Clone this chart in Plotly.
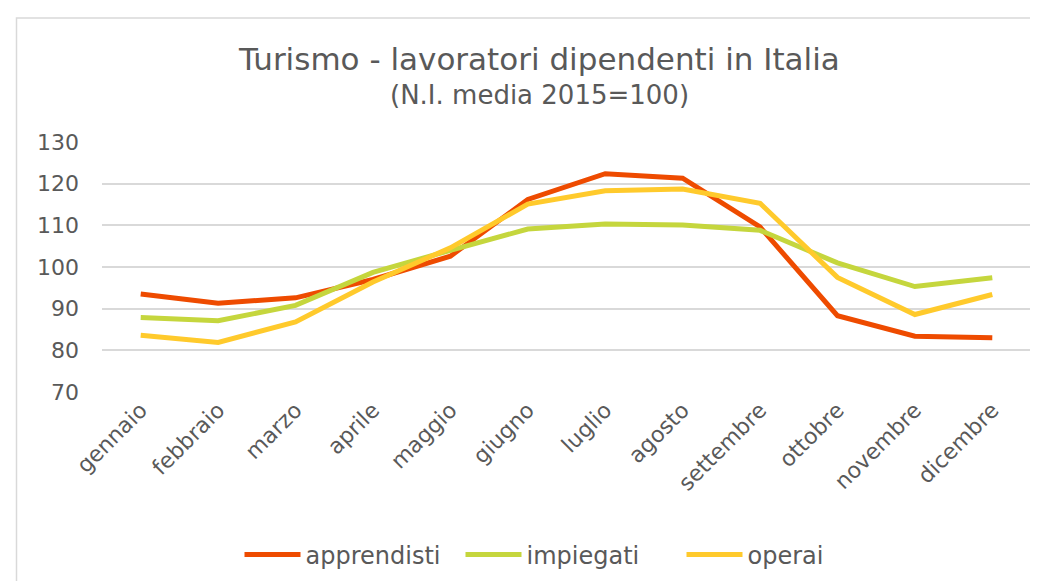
import plotly.graph_objects as go

mesi = ["gennaio", "febbraio", "marzo", "aprile", "maggio", "giugno", "luglio",
        "agosto", "settembre", "ottobre", "novembre", "dicembre"]
apprendisti = [93.5, 91.3, 92.6, 97.0, 102.6, 116.2, 122.4, 121.3, 109.6, 88.3, 83.4, 83.0]
impiegati = [87.9, 87.1, 90.8, 98.7, 104.0, 109.1, 110.3, 110.1, 108.8, 101.0, 95.3, 97.4]
operai = [83.6, 81.9, 86.8, 96.4, 104.6, 115.1, 118.3, 118.7, 115.3, 97.5, 88.6, 93.4]

serie = [("apprendisti", apprendisti, "#EE4B00"),
         ("impiegati", impiegati, "#C5D63D"),
         ("operai", operai, "#FFCA2C")]

TXT = "#595959"
FONT = "DejaVu Sans"

fig = go.Figure()
for nome, vals, col in serie:
    fig.add_trace(go.Scatter(x=mesi, y=vals, name=nome, mode="lines",
                             line=dict(color=col, width=5)))

W, H = 1038, 581
L, R, T, B = 94, 15, 134, 197
pw, ph = W - L - R, H - T - B

def px(x):
    return (x - L) / pw

def py(y):
    return (H - B - y) / ph

fig.update_layout(
    width=W, height=H,
    margin=dict(l=L, r=R, t=T, b=B),
    paper_bgcolor="white", plot_bgcolor="white",
    font=dict(family=FONT, color=TXT, size=22),
    showlegend=True,
    legend=dict(orientation="h", x=px(563), xanchor="center", y=py(547), yanchor="middle",
                font=dict(size=24, color=TXT), itemwidth=56, tracegroupgap=0,
                entrywidth=150),
    xaxis=dict(type="category", range=[-0.5, 11.5], tickangle=-45, showgrid=False,
               showline=False, ticks="", tickfont=dict(size=22, color=TXT)),
    yaxis=dict(range=[70, 130], dtick=10, tick0=70, showgrid=True, gridcolor="#d9d9d9",
               gridwidth=1.5, zeroline=False, showline=False, ticks="",
               ticklabelstandoff=22, tickfont=dict(size=22, color=TXT)),
    annotations=[
        dict(text="Turismo - lavoratori dipendenti in Italia", xref="paper", yref="paper",
             x=px(531), y=py(51), xanchor="center", yanchor="middle", showarrow=False,
             font=dict(size=31, color=TXT, family=FONT)),
        dict(text="(N.I. media 2015=100)", xref="paper", yref="paper",
             x=px(531), y=py(87), xanchor="center", yanchor="middle", showarrow=False,
             font=dict(size=26, color=TXT, family=FONT)),
    ],
    shapes=[dict(type="rect", xref="paper", yref="paper", x0=px(8.5), x1=px(1045),
                 y0=py(590), y1=py(10), line=dict(color="#d9d9d9", width=1.5),
                 layer="below")],
)

fig.write_html("out.html")
